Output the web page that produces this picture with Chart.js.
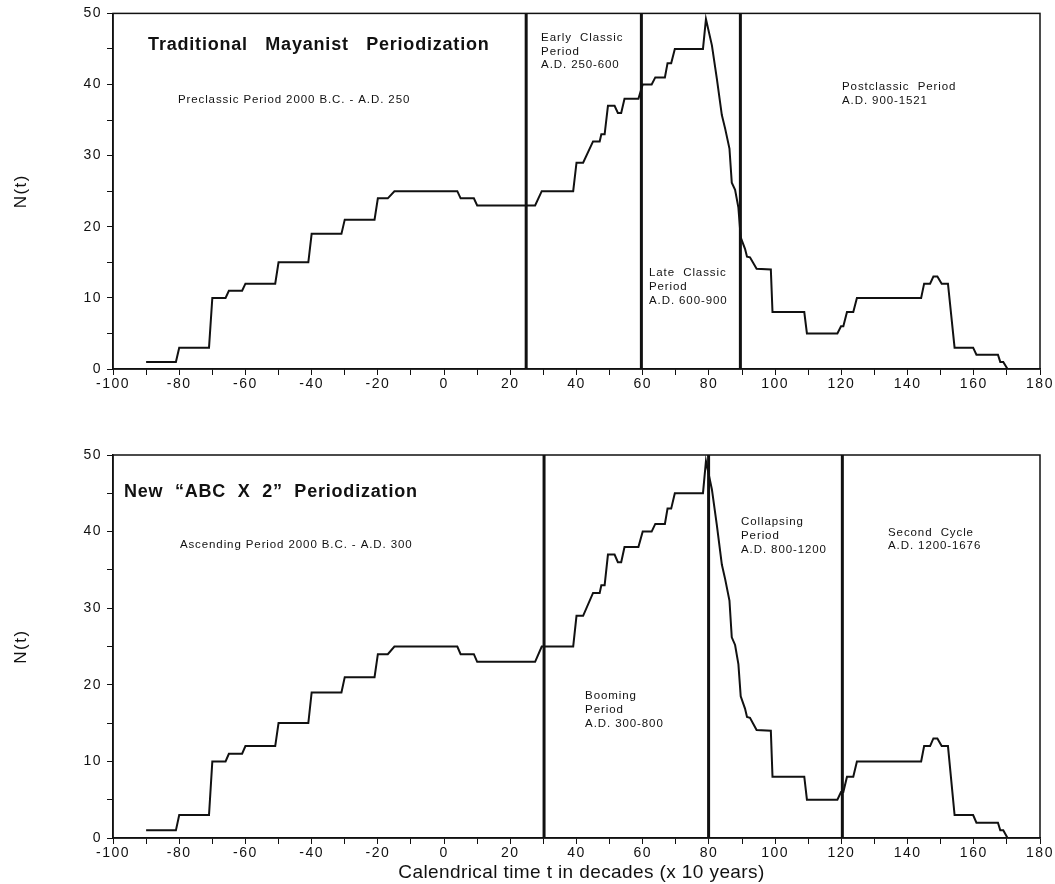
<!DOCTYPE html>
<html><head><meta charset="utf-8">
<script src="https://cdn.jsdelivr.net/npm/chart.js@4"></script>
<style>
body{margin:0;background:#fff;width:1055px;height:884px;overflow:hidden;position:relative}
#wrap1{position:absolute;left:0;top:0;width:1055px;height:400px}
#wrap2{position:absolute;left:0;top:440px;width:1055px;height:444px}
</style></head><body>
<div id="wrap1"><canvas id="c1"></canvas></div>
<div id="wrap2"><canvas id="c2"></canvas></div>
<script>
// ---- data ----
const timeDecades = [-90,-81,-80,-71,-70,-66,-65,-61,-60,-51,-50,-41,-40,-31,-30,-21,-20,-17,-15,4,5,9,10,27.5,29.5,39,40,42,45,47,47.5,48.5,49.5,51.5,52.5,53.5,54.5,58.7,60,62.7,63.8,66.7,67.5,68.6,69.7,78.2,79.1,80.9,82.4,83.9,84.9,86.2,86.9,87.9,88.9,89.6,90.9,91.5,92.4,94.4,98.7,99.2,108.8,109.6,118.8,119.9,120.6,121.7,123.6,124.7,144.1,145,146.8,147.8,149,150.3,152.2,154.2,159.8,160.8,167.3,168,168.9,170.2];
const sitesN = [1,1,3,3,10,10,11,11,12,12,15,15,19,19,21,21,24,24,25,25,24,24,23,23,25,25,29,29,32,32,33,33,37,37,36,36,38,38,40,40,41,41,43,43,45,45,49.2,45.5,40.8,35.7,33.8,31.0,26.2,25.2,22.7,18.5,16.9,15.8,15.7,14.1,14,8,8,5,5,6,6,8,8,10,10,12,12,13,13,12,12,3,3,2,2,1,1,0];
const xRange = [-100, 180];
const yRange = [0, 50];
const topBoundaries = [24.8, 59.6, 89.5];
const bottomBoundaries = [30.2, 79.9, 120.3];
const topNotes = [
  {t:-89.4, n:45.5, bold:true, lines:["Traditional   Mayanist   Periodization"]},
  {t:-80.4, n:37.85, lines:["Preclassic Period 2000 B.C. - A.D. 250"]},
  {t:29.3, n:46.6, lines:["Early  Classic","Period","A.D. 250-600"]},
  {t:61.9, n:13.5, lines:["Late  Classic","Period","A.D. 600-900"]},
  {t:120.2, n:39.7, lines:["Postclassic  Period","A.D. 900-1521"]}
];
const bottomNotes = [
  {t:-96.7, n:45.2, bold:true, lines:["New  \u201CABC  X  2\u201D  Periodization"]},
  {t:-79.8, n:38.25, lines:["Ascending Period 2000 B.C. - A.D. 300"]},
  {t:42.6, n:18.5, lines:["Booming","Period","A.D. 300-800"]},
  {t:89.7, n:41.25, lines:["Collapsing","Period","A.D. 800-1200"]},
  {t:134.1, n:39.9, lines:["Second  Cycle","A.D. 1200-1676"]}
];
const yTitle = "N(t)";
const xTitle = "Calendrical time t in decades (x 10 years)";

const FONT = "'Liberation Sans', Arial, Helvetica, sans-serif";
Chart.defaults.font.family = FONT;
Chart.defaults.color = '#111';

const spacingPlugin = {
  id:'spacing',
  beforeUpdate(chart){ chart.ctx.letterSpacing = '1.5px'; },
  beforeDraw(chart){ chart.ctx.letterSpacing = '1.5px'; }
};

function overlayPlugin(boundaries, notes, withXTitle){
  return {
    id:'overlay',
    afterDatasetsDraw(chart){
      const {ctx, chartArea:a, scales:{x, y}} = chart;
      ctx.save();
      // frame
      ctx.strokeStyle = '#111';
      ctx.lineWidth = 1.5;
      ctx.strokeRect(a.left, a.top, a.right - a.left, a.bottom - a.top);
      // period boundaries
      ctx.lineWidth = 3;
      boundaries.forEach(b => {
        const px = x.getPixelForValue(b);
        ctx.beginPath(); ctx.moveTo(px, a.top); ctx.lineTo(px, a.bottom); ctx.stroke();
      });
      // notes
      ctx.fillStyle = '#111';
      ctx.textAlign = 'left';
      ctx.textBaseline = 'middle';
      notes.forEach(nt => {
        ctx.font = nt.bold ? `bold 18px ${FONT}` : `11.5px ${FONT}`;
        ctx.letterSpacing = nt.bold ? '0.8px' : '0.9px';
        const px = x.getPixelForValue(nt.t), py = y.getPixelForValue(nt.n);
        nt.lines.forEach((l, i) => ctx.fillText(l, px, py + i * 13.8));
      });
      if (withXTitle) {
        ctx.font = `19px ${FONT}`;
        ctx.letterSpacing = '0.4px';
        ctx.textAlign = 'center';
        ctx.fillText(xTitle, (a.left + a.right) / 2 + 5, chart.height - 11);
      }
      ctx.restore();
    }
  };
}

function makeChart(id, boundaries, notes, withXTitle, padTop){
  const pts = timeDecades.map((t, i) => ({x:t, y:sitesN[i]}));
  return new Chart(document.getElementById(id), {
    type:'line',
    data:{datasets:[{data:pts, borderColor:'#111', borderWidth:2, pointRadius:0, tension:0, fill:false}]},
    options:{
      responsive:true, maintainAspectRatio:false, animation:false,
      layout:{padding:{top:padTop, right:15, left:0, bottom:0}},
      plugins:{legend:{display:false}, tooltip:{enabled:false}},
      scales:{
        x:{type:'linear', min:xRange[0], max:xRange[1],
          border:{display:true, color:'#111', width:1.5},
          grid:{display:true, drawOnChartArea:false, drawTicks:true, tickLength:6, color:'#111', lineWidth:1},
          ticks:{stepSize:10, autoSkip:false, maxRotation:0, padding:1, color:'#111', font:{size:14},
            callback:v => (v % 20 === 0 ? String(v) : '')},
          title:{display:false},
          afterFit:s => { s.height = withXTitle ? 46 : 31; }
        },
        y:{type:'linear', min:yRange[0], max:yRange[1],
          border:{display:true, color:'#111', width:1.5},
          grid:{display:true, drawOnChartArea:false, drawTicks:true, tickLength:6, color:'#111', lineWidth:1},
          ticks:{stepSize:5, autoSkip:false, padding:5, color:'#111', font:{size:14},
            callback:v => (v % 10 === 0 ? String(v) : '')},
          title:{display:true, text:yTitle, color:'#111', font:{size:17}, padding:{top:11, bottom:0}},
          afterFit:s => { s.width = 113; }
        }
      }
    },
    plugins:[spacingPlugin, overlayPlugin(boundaries, notes, withXTitle)]
  });
}

makeChart('c1', topBoundaries, topNotes, false, 10);
makeChart('c2', bottomBoundaries, bottomNotes, true, 15);
</script>
</body></html>
